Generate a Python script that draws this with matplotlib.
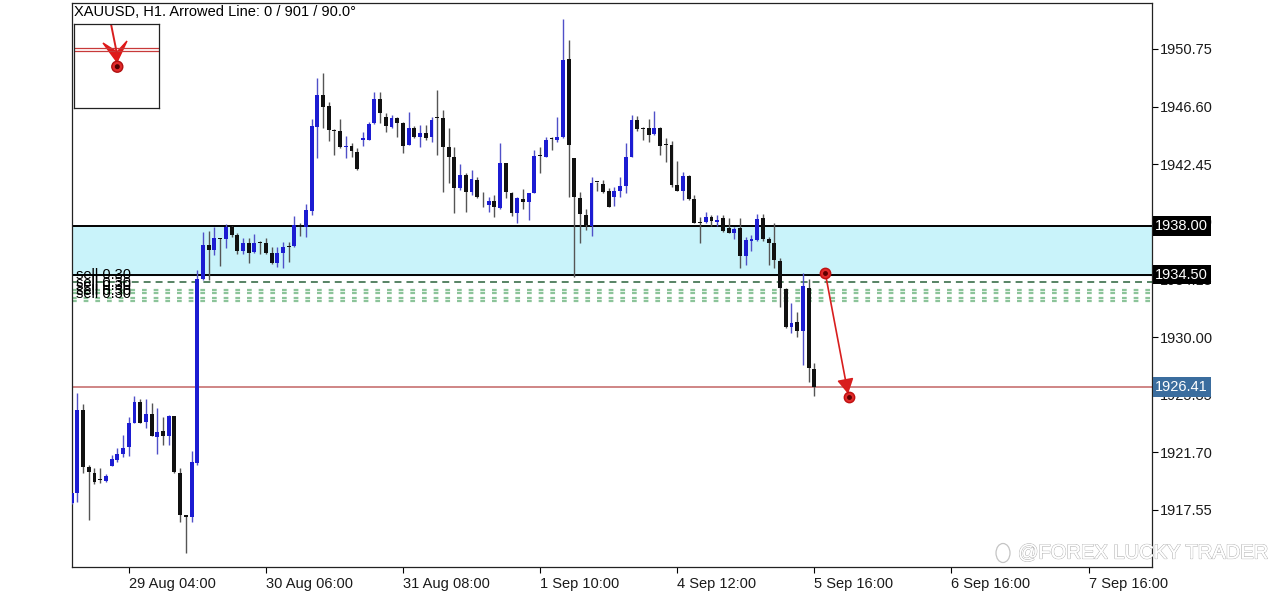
import matplotlib
matplotlib.use("Agg")
import matplotlib.pyplot as plt
import matplotlib.patheffects as pe
from matplotlib.patches import Polygon, Circle, Ellipse
import numpy as np

plt.rcParams['font.family'] = ['Liberation Sans', 'DejaVu Sans']
plt.rcParams['lines.scale_dashes'] = False

# XAUUSD H1 candles, oldest first (the first one is cut by the left edge)
opens = [1918.07, 1918.75, 1924.75, 1920.62, 1920.23, 1919.71, 1919.66, 1920.74, 1921.15, 1921.58,
         1922.11, 1923.84, 1925.35, 1923.91, 1924.44, 1922.83, 1923.24, 1922.88, 1924.32, 1920.23,
         1917.19, 1917.02, 1920.95, 1934.16, 1936.63, 1936.27, 1937.12, 1937.04, 1937.95, 1937.35,
         1936.22, 1936.80, 1936.15, 1936.76, 1936.76, 1936.08, 1935.32, 1936.08, 1936.51, 1936.56,
         1938.07, 1937.95, 1939.10, 1945.11, 1947.44, 1946.64, 1944.92, 1944.87, 1943.67, 1943.76,
         1943.33, 1944.20, 1944.20, 1945.40, 1947.13, 1945.87, 1945.15, 1945.76, 1945.40, 1943.83,
         1945.04, 1944.39, 1944.72, 1944.39, 1945.76, 1945.76, 1943.71, 1942.99, 1940.72, 1941.67,
         1940.47, 1941.31, 1939.98, 1939.51, 1939.82, 1939.28, 1942.56, 1940.40, 1938.96, 1939.95,
         1939.75, 1940.40, 1943.04, 1942.99, 1944.25, 1944.20, 1944.39, 1950.01, 1942.88, 1940.00,
         1938.79, 1938.03, 1941.15, 1941.03, 1940.54, 1940.11, 1940.54, 1940.88, 1942.99, 1945.64,
         1944.97, 1945.04, 1944.63, 1945.04, 1943.83, 1943.83, 1940.95, 1940.54, 1941.60, 1939.92,
         1938.20, 1938.31, 1938.63, 1938.31, 1938.56, 1937.84, 1937.52, 1937.84, 1935.84, 1936.94,
         1936.99, 1938.56, 1937.04, 1936.76, 1935.50, 1933.44, 1930.71, 1931.11, 1930.46, 1933.51,
         1927.68]
highs = [1918.80, 1926.00, 1925.18, 1920.79, 1920.55, 1920.57, 1920.14, 1921.51, 1921.99, 1922.95,
         1924.27, 1925.76, 1925.52, 1925.52, 1925.23, 1924.87, 1924.22, 1924.39, 1924.32, 1920.55,
         1917.19, 1921.82, 1934.83, 1937.59, 1937.66, 1937.95, 1937.12, 1938.15, 1938.00, 1937.48,
         1937.12, 1937.12, 1937.43, 1936.94, 1937.12, 1936.51, 1936.51, 1936.87, 1936.87, 1938.72,
         1938.24, 1939.59, 1945.69, 1948.64, 1949.04, 1946.95, 1944.97, 1945.69, 1944.48, 1943.96,
         1943.60, 1944.79, 1945.51, 1947.67, 1947.67, 1946.12, 1945.99, 1945.87, 1945.51, 1946.23,
         1945.20, 1945.28, 1945.28, 1945.87, 1947.80, 1946.36, 1945.04, 1943.71, 1942.47, 1941.80,
         1942.03, 1941.55, 1940.47, 1940.07, 1940.23, 1944.00, 1942.56, 1940.47, 1940.11, 1940.64,
         1940.40, 1943.47, 1943.71, 1944.43, 1944.43, 1945.83, 1952.89, 1951.40, 1942.88, 1940.47,
         1939.20, 1941.51, 1941.17, 1941.31, 1940.72, 1940.79, 1941.55, 1943.96, 1945.99, 1945.92,
         1945.11, 1945.69, 1946.31, 1945.11, 1944.32, 1944.14, 1942.70, 1941.91, 1941.67, 1940.23,
         1938.67, 1939.03, 1938.79, 1938.79, 1938.79, 1938.56, 1937.91, 1938.56, 1937.19, 1937.35,
         1938.87, 1938.87, 1937.23, 1938.20, 1935.68, 1933.51, 1932.43, 1931.83, 1934.64, 1934.16,
         1928.16]
lows = [1918.00, 1918.15, 1920.19, 1916.83, 1919.42, 1919.47, 1919.59, 1920.72, 1921.03, 1921.39,
        1921.44, 1923.79, 1923.79, 1923.43, 1922.88, 1921.58, 1922.23, 1922.23, 1920.23, 1916.71,
        1914.43, 1916.71, 1920.79, 1934.11, 1934.11, 1935.91, 1935.12, 1936.40, 1937.23, 1935.98,
        1935.98, 1935.32, 1936.08, 1935.98, 1935.98, 1935.26, 1935.07, 1934.96, 1935.43, 1936.51,
        1937.28, 1937.23, 1938.79, 1942.88, 1945.04, 1944.14, 1943.11, 1943.60, 1942.88, 1942.99,
        1942.03, 1943.76, 1944.20, 1945.35, 1945.40, 1944.79, 1945.04, 1944.43, 1943.24, 1943.83,
        1944.32, 1943.67, 1944.20, 1944.07, 1943.11, 1940.47, 1941.08, 1938.96, 1940.59, 1939.03,
        1940.23, 1939.99, 1939.39, 1939.03, 1938.67, 1939.20, 1940.00, 1938.72, 1938.20, 1939.20,
        1938.43, 1940.36, 1941.84, 1942.95, 1943.47, 1944.07, 1944.32, 1940.07, 1934.35, 1936.76,
        1937.71, 1937.28, 1940.52, 1940.36, 1939.35, 1939.44, 1940.11, 1940.40, 1942.95, 1944.86,
        1944.20, 1944.07, 1944.56, 1943.11, 1942.63, 1940.79, 1940.54, 1939.87, 1939.87, 1938.20,
        1936.76, 1938.20, 1938.00, 1938.00, 1937.59, 1937.48, 1937.04, 1934.96, 1935.19, 1936.22,
        1936.94, 1936.94, 1935.19, 1934.96, 1932.15, 1930.63, 1930.27, 1929.99, 1927.99, 1926.79,
        1925.76]
closes = [1918.75, 1924.75, 1920.62, 1920.28, 1919.56, 1919.71, 1920.00, 1921.22, 1921.58, 1922.03,
          1923.84, 1925.35, 1923.84, 1924.44, 1922.88, 1923.19, 1922.88, 1924.32, 1920.28, 1917.19,
          1917.02, 1921.03, 1934.16, 1936.63, 1936.27, 1937.12, 1937.07, 1937.95, 1937.35, 1936.22,
          1936.76, 1936.08, 1936.76, 1936.76, 1936.08, 1935.32, 1936.08, 1936.47, 1936.51, 1938.07,
          1937.95, 1939.15, 1945.20, 1947.44, 1946.59, 1944.92, 1944.85, 1943.67, 1943.76, 1943.42,
          1942.09, 1944.32, 1945.35, 1947.13, 1946.12, 1945.20, 1945.76, 1945.44, 1943.76, 1945.04,
          1944.43, 1944.72, 1944.32, 1945.64, 1945.76, 1943.71, 1942.99, 1940.72, 1941.67, 1940.47,
          1941.36, 1940.11, 1939.98, 1939.82, 1939.35, 1942.56, 1940.47, 1938.96, 1940.00, 1939.71,
          1940.36, 1943.04, 1943.04, 1944.20, 1944.25, 1944.43, 1949.96, 1943.83, 1940.07, 1938.87,
          1938.07, 1941.12, 1941.15, 1940.47, 1939.39, 1940.54, 1940.88, 1942.95, 1945.64, 1944.97,
          1944.97, 1944.56, 1945.04, 1943.76, 1943.83, 1940.95, 1940.54, 1941.60, 1939.92, 1938.24,
          1938.20, 1938.63, 1938.38, 1938.43, 1937.66, 1937.52, 1937.76, 1935.84, 1936.99, 1937.04,
          1938.48, 1937.04, 1936.76, 1935.55, 1933.51, 1930.71, 1931.04, 1930.46, 1933.68, 1927.75,
          1926.41]

# x axis labels (every 24 bars)
tick_bars = [10, 34, 58, 82, 106, 130, 154, 178]
tick_labels = ['29 Aug 04:00', '30 Aug 06:00', '31 Aug 08:00', '1 Sep 10:00',
               '4 Sep 12:00', '5 Sep 16:00', '6 Sep 16:00', '7 Sep 16:00']
price_ticks = [1917.55, 1921.70, 1925.85, 1930.00, 1934.15, 1938.30, 1942.45, 1946.60, 1950.75]

zone_top = 1938.00
zone_bottom = 1934.50
bid = 1926.41
sell_lines = [1934.00, 1933.39, 1933.18, 1932.82, 1932.60]
arrow_start = (131.9, 1934.64)
arrow_end = (136.0, 1925.71)

fig = plt.figure(figsize=(12.8, 5.91), dpi=100)
ax = fig.add_axes([72 / 1280, 1 - 567 / 591, 1080 / 1280, 564 / 591])

# shaded zone + its border lines
ax.axhspan(zone_bottom, zone_top, color='#c9f3fa', zorder=0)
ax.axhline(zone_top, color='black', lw=1.4, zorder=1)
ax.axhline(zone_bottom, color='black', lw=1.4, zorder=1)

# sell orders
ax.axhline(sell_lines[0], color='#4a7a58', lw=1.3, dashes=(5, 3.6), zorder=1)
for lvl in sell_lines[1:]:
    ax.axhline(lvl, color='#8cc49a', lw=1.6, dashes=(3.4, 5.0), zorder=1)
for lvl in sell_lines:
    ax.text(3.5 / 1080, lvl - 0.02, 'sell 0.30', transform=ax.get_yaxis_transform(),
            fontsize=10.5, va='bottom', ha='left', color='black', zorder=6)

ax.axhline(bid, color='#cf8585', lw=1.4, zorder=1)

# candles
o = np.array(opens)
h = np.array(highs)
l = np.array(lows)
c = np.array(closes)
x = np.arange(len(o))
cols = np.where(c > o, '#1c1cd2', '#111111')
wick_cols = np.where(c > o, '#5050c8', '#555555')
ax.vlines(x, l, h, colors=wick_cols, lw=1.0, zorder=3)
bottoms = np.minimum(o, c)
heights = np.maximum(np.abs(c - o), 0.07)
ax.bar(x, heights, bottom=bottoms, width=0.68, color=cols, lw=0, zorder=4)

# arrowed line
ax.annotate('', xy=arrow_end, xytext=arrow_start,
            arrowprops=dict(arrowstyle='-|>,head_length=0.9,head_width=0.5',
                            color='#d81e1e', lw=1.2, shrinkA=3, shrinkB=2), zorder=7)
for px, py in (arrow_start, arrow_end):
    ax.plot(px, py, 'o', ms=7.5, color='#e02a2a', mec='#c01010', zorder=8)
    ax.plot(px, py, 'o', ms=2.5, color='#600000', zorder=9)

ax.set_xlim(0.07, 189.1)
ax.set_ylim(1913.44, 1954.06)

ax.yaxis.tick_right()
ax.set_yticks(price_ticks)
ax.set_yticklabels([f'{v:.2f}' for v in price_ticks], fontsize=10.5, color='#1a1a1a')
ax.tick_params(axis='y', length=4, width=0.8, pad=2)
ax.set_xticks(tick_bars)
ax.set_xticklabels(tick_labels, fontsize=10.5, ha='left', color='#1a1a1a')
ax.tick_params(axis='x', length=4, width=0.8, pad=3)
for sp in ax.spines.values():
    sp.set_color('#222222')
    sp.set_linewidth(0.9)

# price labels on the right
tr = ax.get_yaxis_transform()
for val, bg in ((zone_top, 'black'), (zone_bottom, 'black'), (bid, '#3b6d9e')):
    ax.text(1.003, val, f'{val:.2f}', transform=tr, fontsize=10.5, color='white',
            ha='left', va='center', clip_on=False, zorder=10,
            bbox=dict(boxstyle='square,pad=0.18', fc=bg, ec='none'))

fig.text(74 / 1280, 1 - 5 / 591, 'XAUUSD, H1. Arrowed Line: 0 / 901 / 90.0°',
         fontsize=10.5, va='top', ha='left')

# small preview box top left
ins = fig.add_axes([74 / 1280, 1 - 108 / 591, 85 / 1280, 84 / 591])
ins.set_xlim(0, 85)
ins.set_ylim(84, 0)
ins.set_xticks([])
ins.set_yticks([])
for sp in ins.spines.values():
    sp.set_color('#222222')
    sp.set_linewidth(0.9)
ins.axhline(23.8, color='#c83a3a', lw=0.9)
ins.axhline(26.8, color='#c83a3a', lw=0.9)
ins.plot([37, 43], [0, 30], color='#d81e1e', lw=1.4)
ins.add_patch(Polygon([(29, 19), (43, 28), (53, 17), (43, 38)], closed=True, color='#e01818'))
ins.add_patch(Circle((43.3, 42.7), 5.5, color='#e02a2a', ec='#b01010'))
ins.add_patch(Circle((43.3, 42.7), 1.8, color='#500000'))

# watermark
fig.patches.append(Ellipse((1003 / 1280, 1 - 553 / 591), 14 / 1280, 19 / 591,
                           transform=fig.transFigure, fill=False, ec='#c4c4c4', lw=0.9))
fig.text(1018 / 1280, 1 - 553 / 591, '@FOREX LUCKY TRADER', fontsize=14.5, va='center',
         ha='left', color='white',
         path_effects=[pe.withStroke(linewidth=0.9, foreground='#b4b4b4'), pe.Normal()])

plt.savefig('out.png', dpi=100)
plt.close()
